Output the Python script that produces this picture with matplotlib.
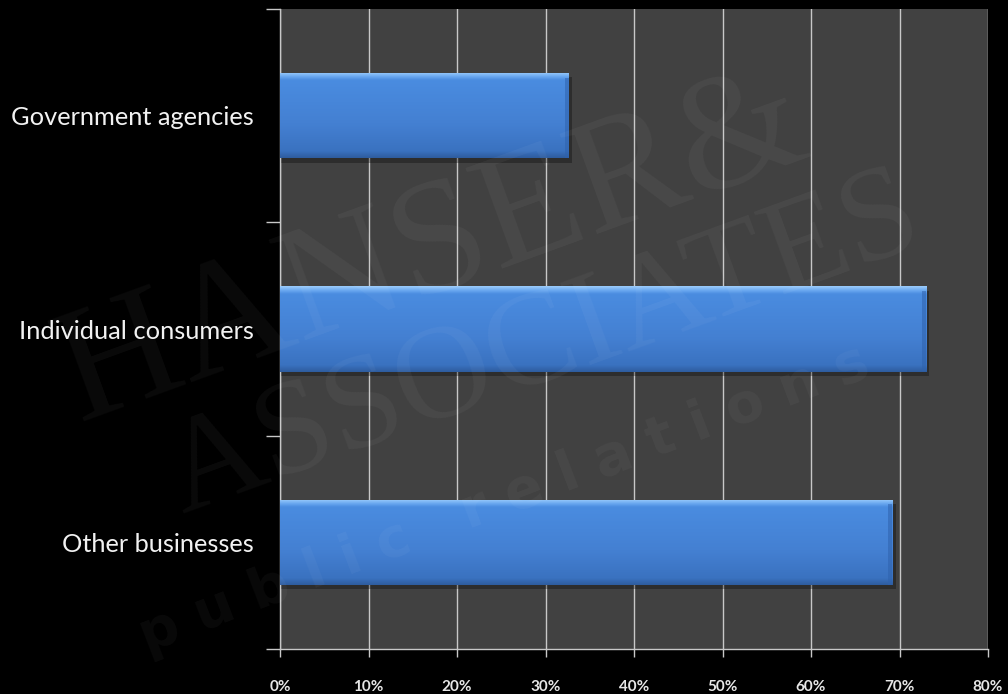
import matplotlib.pyplot as plt
import numpy as np
from matplotlib.colors import LinearSegmentedColormap

# survey shares, top to bottom
categories = ['Government agencies', 'Individual consumers', 'Other businesses']
shares = [32.6, 73.0, 69.2]
x_ticks = [0, 10, 20, 30, 40, 50, 60, 70, 80]

plt.rcParams['font.family'] = ['Lato', 'DejaVu Sans']

fig = plt.figure(figsize=(10.08, 6.94), dpi=100, facecolor='black')
ax = fig.add_axes([280 / 1008, 45 / 694, 708 / 1008, 640 / 694])
ax.set_facecolor('#414141')

ax.set_xlim(0, 80)
ax.set_ylim(2.5, -0.5)
ax.set_xticks(x_ticks, labels=[f'{t}%' for t in x_ticks],
              fontsize=11, fontweight='bold', color='#e6e6e6')
ax.grid(axis='x', color='#c8c8c8', linewidth=1.0)
ax.set_axisbelow(True)

# category labels sit between the boundary ticks
ax.set_yticks([-0.5, 0.5, 1.5, 2.5])
ax.set_yticklabels([])
ax.set_yticks(range(len(categories)), minor=True)
ax.set_yticklabels(categories, minor=True, fontsize=18.3, color='#f2f2f2')
ax.tick_params(axis='y', which='minor', length=0, pad=19)
ax.tick_params(axis='y', which='major', length=10, color='#c8c8c8', width=1)
ax.tick_params(axis='x', length=6, color='#c8c8c8', width=1, pad=16)

for side in ['top', 'right']:
    ax.spines[side].set_visible(False)
for side in ['left', 'bottom']:
    ax.spines[side].set_color('#c8c8c8')
    ax.spines[side].set_linewidth(1.0)

# faint watermark behind everything
wm = dict(color='white', alpha=0.042, family='Liberation Serif',
          transform=fig.transFigure, ha='center', va='center', zorder=0.5)
fig.text(0.43, 0.64, 'HANSER&', fontsize=118, rotation=20, **wm)
fig.text(0.54, 0.50, 'ASSOCIATES', fontsize=96, rotation=20, **wm)
fig.text(0.50, 0.28, 'p u b l i c   r e l a t i o n s', fontsize=40,
         rotation=21, color='white', alpha=0.04, family='DejaVu Sans',
         weight='bold', transform=fig.transFigure, ha='center',
         va='center', zorder=0.5)

bar_cmap = LinearSegmentedColormap.from_list(
    'bar', [(0.0, '#9ccdfc'), (0.05, '#6aa8f0'), (0.09, '#4a8ce0'),
            (0.6, '#4480d2'), (0.92, '#3a72c0'), (1.0, '#2e5c9e')])
grad = np.linspace(0, 1, 256).reshape(-1, 1)

height = 0.4
bars = ax.barh(range(len(categories)), shares, height=height,
               color='#4582d4', edgecolor='none', zorder=3)
for y, v, b in zip(range(len(categories)), shares, bars):
    # soft shadow under each bar
    ax.barh(y + 0.02, v + 0.35, height=height, color='black', alpha=0.3,
            edgecolor='none', zorder=2.5)
    img = ax.imshow(grad, cmap=bar_cmap, aspect='auto',
                    extent=(0, v, y + height / 2, y - height / 2),
                    zorder=3.2, interpolation='bicubic')
    img.set_clip_path(b)
    # darker right bevel
    ax.barh(y + 0.01, 0.45, left=v - 0.45, height=height * 0.94,
            color='#2f62ad', alpha=0.55, edgecolor='none', zorder=3.4)

ax.set_xlim(0, 80)
ax.set_ylim(2.5, -0.5)

fig.savefig('out.png', dpi=100, facecolor='black')
